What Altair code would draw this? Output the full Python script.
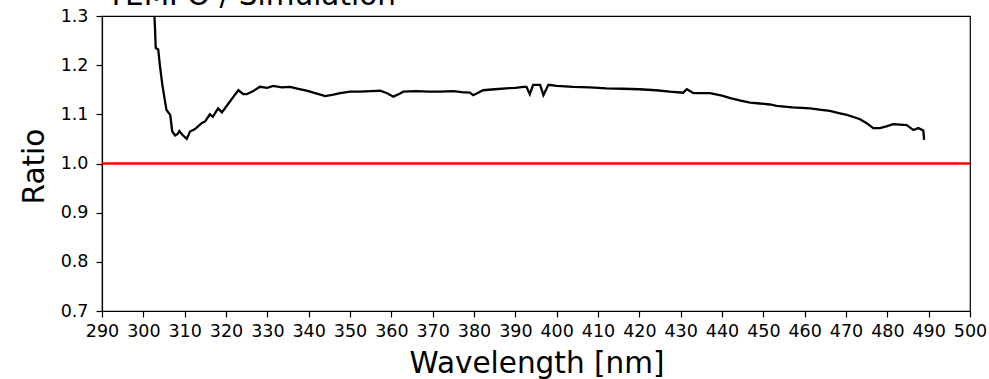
import altair as alt
import pandas as pd

title_text = "TEMPO / Simulation"

wavelength = [302.2, 302.8, 303.0, 303.6, 304.0, 304.6, 305.2, 305.6, 306.5, 307.0,
              307.7, 308.3, 308.7, 309.5, 310.5, 311.3, 312.5, 314.1, 315.0, 316.1,
              316.8, 318.1, 319.0, 320.6, 322.0, 323.0, 324.2, 325.0, 326.5, 328.2,
              330.0, 331.4, 333.5, 335.5, 337.5, 339.5, 342.0, 344.0, 346.0, 347.6,
              350.0, 352.4, 355.0, 357.3, 359.0, 360.5, 362.0, 362.9, 366.0, 369.0,
              371.8, 375.0, 377.0, 379.0, 379.8, 381.0, 382.2, 385.0, 387.8, 390.0,
              392.0, 392.7, 393.5, 394.3, 396.0, 396.8, 398.0, 400.0, 404.0, 408.0,
              412.0, 416.0, 420.0, 424.0, 427.4, 430.6, 431.5, 433.1, 437.1, 440.0,
              442.0, 444.5, 446.8, 449.2, 451.6, 453.2, 457.0, 461.3, 464.0, 466.1,
              468.0, 470.2, 472.0, 473.4, 475.0, 476.6, 478.2, 480.0, 481.4, 483.0,
              484.7, 486.3, 487.5, 488.7, 488.9]
ratio = [1.38, 1.28, 1.235, 1.232, 1.20, 1.16, 1.129, 1.109, 1.099, 1.065,
         1.057, 1.060, 1.066, 1.058, 1.050, 1.065, 1.070, 1.082, 1.086, 1.100,
         1.095, 1.112, 1.104, 1.122, 1.138, 1.149, 1.141, 1.141, 1.147, 1.156,
         1.154, 1.158, 1.155, 1.156, 1.152, 1.148, 1.142, 1.137, 1.140, 1.143,
         1.146, 1.146, 1.147, 1.148, 1.143, 1.136, 1.142, 1.146, 1.147, 1.146,
         1.146, 1.147, 1.145, 1.144, 1.139, 1.144, 1.149, 1.151, 1.153, 1.154,
         1.156, 1.156, 1.141, 1.160, 1.160, 1.139, 1.160, 1.158, 1.156, 1.155,
         1.153, 1.152, 1.151, 1.149, 1.146, 1.144, 1.151, 1.143, 1.143, 1.138,
         1.133, 1.128, 1.124, 1.122, 1.120, 1.117, 1.114, 1.112, 1.109, 1.107,
         1.103, 1.099, 1.094, 1.090, 1.082, 1.072, 1.072, 1.076, 1.080, 1.079,
         1.078, 1.068, 1.072, 1.067, 1.048]

x_ticks = list(range(290, 501, 10))
y_ticks = [0.7, 0.8, 0.9, 1.0, 1.1, 1.2, 1.3]
reference_level = [1.0]

df = pd.DataFrame({"wavelength": wavelength, "ratio": ratio})
ref_df = pd.DataFrame({"ratio": reference_level})
title_df = pd.DataFrame({"t": [title_text]})

FONT = "DejaVu Sans"
TITLE_SIZE = 29.5
LABEL_SIZE = 17.5

x_enc = alt.X("wavelength:Q",
              scale=alt.Scale(domain=[290, 500], nice=False, zero=False),
              axis=alt.Axis(values=x_ticks, title="Wavelength [nm]", format="d",
                            labelFontSize=LABEL_SIZE, titleFontSize=TITLE_SIZE,
                            titleFontWeight="normal", labelFlush=False,
                            labelPadding=5, tickSize=6,
                            titleBaseline="alphabetic", titleAlign="center",
                            titleX=434.5, titleY=61))
y_enc = alt.Y("ratio:Q",
              scale=alt.Scale(domain=[0.7, 1.3], nice=False, zero=False),
              axis=alt.Axis(values=y_ticks, title="Ratio", format=".1f",
                            labelFontSize=LABEL_SIZE, titleFontSize=TITLE_SIZE,
                            titleFontWeight="normal", labelFlush=False,
                            labelPadding=8, tickSize=6,
                            titleAngle=270, titleBaseline="alphabetic",
                            titleAlign="center", titleX=-58.5, titleY=150))

line = alt.Chart(df).mark_line(color="black", strokeWidth=2.3, clip=True).encode(
    x=x_enc, y=y_enc)

ref = alt.Chart(ref_df).mark_rule(color="#ff0000", strokeWidth=2.7).encode(
    y=alt.Y("ratio:Q"))

title = alt.Chart(title_df).mark_text(
    align="left", baseline="alphabetic", fontSize=TITLE_SIZE, font=FONT, color="black"
).encode(text="t:N", x=alt.value(5), y=alt.value(-11.5))

chart = alt.layer(ref, line, title).properties(
    width=868, height=295,
    autosize=alt.AutoSizeParams(type="none"),
    padding={"left": 102, "top": 16, "right": 19, "bottom": 68},
).configure_view(
    stroke="black", strokeWidth=1.2
).configure_axis(
    grid=False, domainColor="black", tickColor="black", tickWidth=1.2,
    domainWidth=1.2,
    labelColor="black", titleColor="black", labelFont=FONT, titleFont=FONT
)

chart.save("out.html", embed_options={"renderer": "svg", "actions": False})
